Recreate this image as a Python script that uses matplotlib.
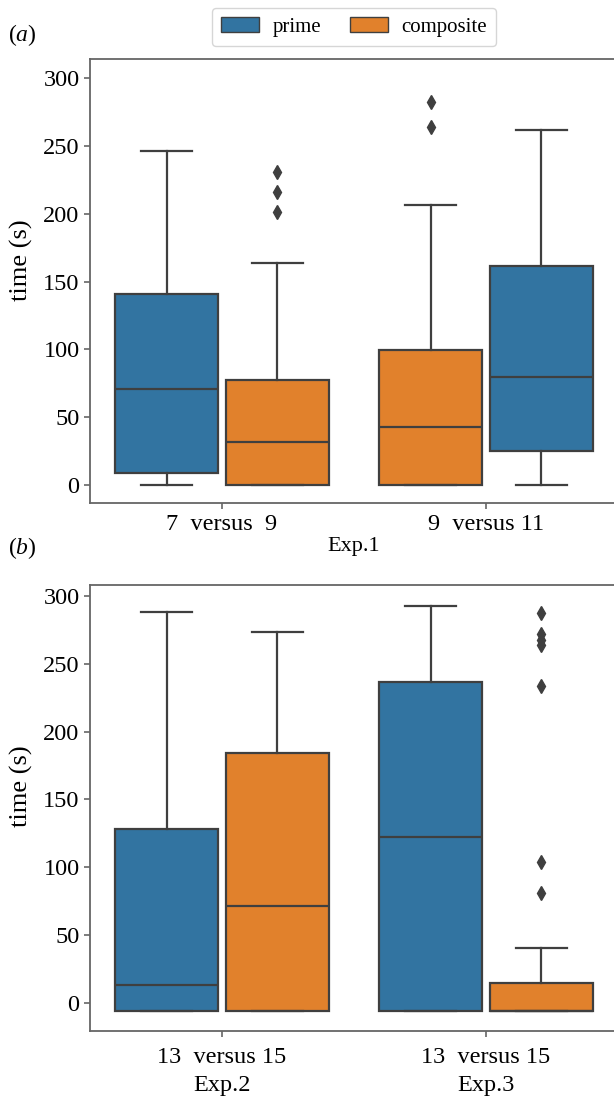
import matplotlib.pyplot as plt
from matplotlib.patches import Patch

plt.rcParams['font.family'] = 'Liberation Serif'
plt.rcParams['mathtext.fontset'] = 'custom'
plt.rcParams['mathtext.rm'] = 'Liberation Serif'
plt.rcParams['mathtext.it'] = 'Liberation Serif:italic'

colors = {'prime': '#3274a1', 'composite': '#e1812c'}
line_col = '#3f3f3f'

# panel (a): Exp.1, boxes from left to right
groups_a = ['7  versus  9', '9  versus 11']
hue_a = ['prime', 'composite', 'composite', 'prime']
q1_a = [8.6, 0, 0, 25.3]
med_a = [71, 31.5, 43, 80]
q3_a = [140.7, 77.5, 99.6, 161.5]
lo_a = [0, 0, 0, 0]
hi_a = [246, 164, 206.5, 261.6]
fl_a = [[], [201.6, 215.9, 230.6], [264.3, 282.3], []]

# panel (b): Exp.2 and Exp.3
groups_b = ['13  versus 15\nExp.2', '13  versus 15\nExp.3']
hue_b = ['prime', 'composite', 'prime', 'composite']
q1_b = [-5.8, -5.8, -5.8, -5.8]
med_b = [13.1, 71.6, 122.5, -5.8]
q3_b = [127.9, 184, 236.3, 14.4]
lo_b = [-5.8, -5.8, -5.8, -5.8]
hi_b = [288.4, 273.7, 292.9, 40.7]
fl_b = [[], [], [], [81.2, 104, 233.9, 263.9, 267.6, 272, 287.2]]


def draw_panel(ax, groups, hue, q1, med, q3, lo, hi, fl, ylim, pad=3.5):
    stats = []
    for i in range(len(hue)):
        stats.append(dict(q1=q1[i], med=med[i], q3=q3[i],
                          whislo=lo[i], whishi=hi[i], fliers=fl[i]))
    pos = [i // 2 + (-0.21 if i % 2 == 0 else 0.21) for i in range(len(hue))]
    bp = ax.bxp(stats, positions=pos, widths=0.39, patch_artist=True,
                showfliers=True,
                boxprops=dict(edgecolor=line_col, linewidth=1.6),
                whiskerprops=dict(color=line_col, linewidth=1.6),
                capprops=dict(color=line_col, linewidth=1.6),
                medianprops=dict(color=line_col, linewidth=1.6),
                flierprops=dict(marker='d', markerfacecolor=line_col,
                                markeredgecolor=line_col, markersize=7))
    for patch, h in zip(bp['boxes'], hue):
        patch.set_facecolor(colors[h])
    ax.set_xticks(range(len(groups)))
    ax.set_xticklabels(groups, fontsize=17, linespacing=1.4)
    ax.set_xlim(-0.5, 1.5)
    ax.set_ylim(*ylim)
    ax.set_yticks([0, 50, 100, 150, 200, 250, 300])
    ax.tick_params(labelsize=17.5, color='#666666', length=4, width=1.2)
    ax.tick_params(axis='x', pad=pad)
    for s in ax.spines.values():
        s.set_color('#666666')
        s.set_linewidth(1.3)
    ax.set_ylabel('time (s)', fontsize=19)
    ax.yaxis.set_label_coords(-0.108, 0.548)


fig = plt.figure(figsize=(6.14, 11.01), dpi=100)
ax1 = fig.add_axes([90 / 614, 0.5429, 528 / 614, 0.4035])
ax2 = fig.add_axes([90 / 614, 0.0639, 528 / 614, 0.4048])

draw_panel(ax1, groups_a, hue_a, q1_a, med_a, q3_a, lo_a, hi_a, fl_a, (-13.5, 314.2))
ax1.set_xlabel('Exp.1', fontsize=16, labelpad=2)
draw_panel(ax2, groups_b, hue_b, q1_b, med_b, q3_b, lo_b, hi_b, fl_b, (-20.6, 308.1), pad=8)

fig.text(8 / 614, 1 - 35 / 1101, r'$(a)$', fontsize=17, va='center', ha='left')
fig.text(8 / 614, 1 - 548 / 1101, r'$(b)$', fontsize=17, va='center', ha='left')

handles = [Patch(facecolor=colors[h], edgecolor=line_col, label=h)
           for h in ['prime', 'composite']]
fig.legend(handles=handles, loc='center', bbox_to_anchor=(354 / 614, 1 - 27 / 1101),
           ncol=2, fontsize=15, frameon=True, edgecolor='#cccccc', fancybox=True,
           handlelength=1.8, handletextpad=0.65, columnspacing=1.4, borderpad=0.45)

fig.savefig('out.png', dpi=100)
